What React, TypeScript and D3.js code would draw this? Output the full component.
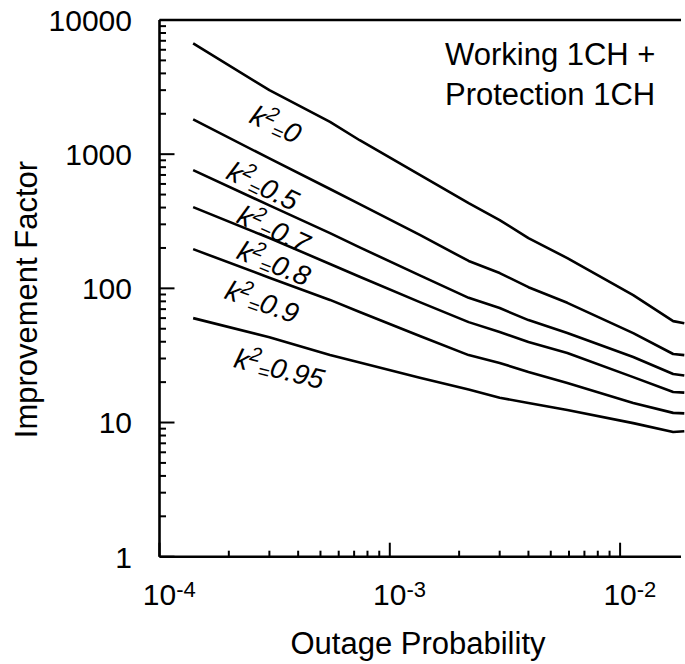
import React from "react";
import * as d3 from "d3";

// Outage probability sample points (x axis)
const outageProb = [1.4e-4, 3e-4, 5.5e-4, 7.4e-4, 1.35e-3, 2.2e-3, 3e-3, 4e-3, 5.9e-3, 1.14e-2, 1.7e-2, 1.9e-2];

// Improvement factor per correlation coefficient k^2
const k2Labels = ["0", "0.5", "0.7", "0.8", "0.9", "0.95"];
const improvK0 = [6700, 3000, 1740, 1270, 700, 432, 323, 237, 168, 89, 57, 55];
const improvK05 = [1816, 929, 550, 425, 250, 160, 130, 102, 78, 46.4, 32.4, 31.8];
const improvK07 = [761, 415, 258, 202, 125, 85, 71.3, 58, 46.4, 30.8, 23, 22.4];
const improvK08 = [403, 237, 152, 122, 79, 56, 47.2, 39.8, 33, 21.8, 16.9, 16.7];
const improvK09 = [196, 120, 82, 66.6, 44.1, 31.8, 27.8, 23.8, 19.7, 14, 11.8, 11.7];
const improvK095 = [60, 43.2, 31.8, 28, 21.6, 17.6, 15.3, 14, 12.4, 9.9, 8.5, 8.6];
const seriesValues = [improvK0, improvK05, improvK07, improvK08, improvK09, improvK095];

// Curve label anchors (data coordinates) and their slant in degrees
const labelAnchorX = [2.42e-4, 1.92e-4, 2.13e-4, 2.13e-4, 1.89e-4, 2.08e-4];
const labelAnchorY = [1734, 664, 312, 168, 84.7, 25.9];
const labelAngle = [25, 26, 25, 22, 20, 14];

// Axis ticks
const yMajorTicks = [1, 10, 100, 1000, 10000];
const yTickLabels = ["1", "10", "100", "1000", "10000"];
const xMajorTicks = [1e-4, 1e-3, 1e-2];
const xTickExponents = ["-4", "-3", "-2"];

const W = 685;
const H = 664;
const FONT = "'Liberation Sans', Arial, Helvetica, sans-serif";

export default function App() {
  const x0 = 159.5;
  const decadeX = 230.3;
  const x = d3
    .scaleLog()
    .domain([1e-4, 1.9e-2])
    .range([x0, x0 + decadeX * Math.log10(1.9e-2 / 1e-4)]);
  const y = d3.scaleLog().domain([1, 10000]).range([556.7, 20]);

  const frameRight = 681;
  const line = d3
    .line<number>()
    .x((_, i) => x(outageProb[i]))
    .y((v) => y(v));

  const yMinor: number[] = [];
  for (let dec = 1; dec < 10000; dec *= 10) {
    for (let m = 2; m <= 9; m++) yMinor.push(dec * m);
  }
  const xMinor: number[] = [];
  for (let dec = 1e-4; dec < 1e-2 * 1.5; dec *= 10) {
    for (let m = 2; m <= 9; m++) {
      const v = dec * m;
      if (v <= x.domain()[1]) xMinor.push(v);
    }
  }

  const ax = x(1e-4);
  const bottom = y(1);
  const top = y(10000);

  return (
    <svg
      width={W}
      height={H}
      style={{ position: "absolute", left: 0, top: 0, background: "#fff" }}
      fontFamily={FONT}
    >
      <rect width={W} height={H} fill="#fff" />

      {/* frame */}
      <g stroke="#000" strokeWidth={2.6} fill="none">
        <line x1={ax} x2={frameRight} y1={top} y2={top} />
        <line x1={ax} x2={frameRight} y1={bottom} y2={bottom} />
        <line x1={ax} x2={ax} y1={top} y2={bottom} />
      </g>

      {/* y ticks */}
      <g stroke="#000" strokeWidth={2}>
        {yMajorTicks.map((t) => (
          <line key={"ym" + t} x1={ax} x2={ax + 15} y1={y(t)} y2={y(t)} />
        ))}
        {yMinor.map((t) => (
          <line key={"yn" + t} x1={ax} x2={ax + 6.5} y1={y(t)} y2={y(t)} />
        ))}
      </g>

      {/* x ticks */}
      <g stroke="#000" strokeWidth={2}>
        {xMajorTicks.map((t) => (
          <line key={"xm" + t} x1={x(t)} x2={x(t)} y1={bottom} y2={bottom - 14} />
        ))}
        {xMinor.map((t) => (
          <line key={"xn" + t} x1={x(t)} x2={x(t)} y1={bottom} y2={bottom - 6} />
        ))}
      </g>

      {/* y tick labels */}
      <g fontSize={30} textAnchor="end" fill="#000">
        {yMajorTicks.map((t, i) => (
          <text key={"yl" + t} x={132} y={y(t)} dy="0.36em">
            {yTickLabels[i]}
          </text>
        ))}
      </g>

      {/* x tick labels */}
      <g fill="#000">
        {xMajorTicks.map((t, i) => (
          <g key={"xl" + t}>
            <text x={x(t)} y={605} fontSize={30} textAnchor="middle">
              10
            </text>
            <text x={x(t) + 16.7} y={596.5} fontSize={22} textAnchor="start">
              {xTickExponents[i]}
            </text>
          </g>
        ))}
      </g>

      {/* axis titles */}
      <text x={418} y={654} fontSize={31} textAnchor="middle" fill="#000">
        Outage Probability
      </text>
      <text
        transform="translate(37,299.5) rotate(-90)"
        fontSize={31}
        textAnchor="middle"
        fill="#000"
      >
        Improvement Factor
      </text>

      {/* curves */}
      <g fill="none" stroke="#000" strokeWidth={2.6} strokeLinejoin="round">
        {seriesValues.map((vals, i) => (
          <path key={"c" + i} d={line(vals) || ""} />
        ))}
      </g>

      {/* curve labels */}
      <g fill="#000" fontStyle="italic" fontSize={28}>
        {k2Labels.map((lab, i) => (
          <text
            key={"lab" + i}
            transform={`translate(${x(labelAnchorX[i])},${y(labelAnchorY[i])}) rotate(${labelAngle[i]})`}
          >
            <tspan>k</tspan>
            <tspan dy={-11} fontSize={20}>2</tspan>
            <tspan dy={15} fontSize={20}>=</tspan>
            <tspan dy={-4}>{lab}</tspan>
          </text>
        ))}
      </g>

      {/* annotation */}
      <g fontSize={31} fill="#000">
        <text x={445} y={65}>Working 1CH +</text>
        <text x={445} y={105}>Protection 1CH</text>
      </g>
    </svg>
  );
}
